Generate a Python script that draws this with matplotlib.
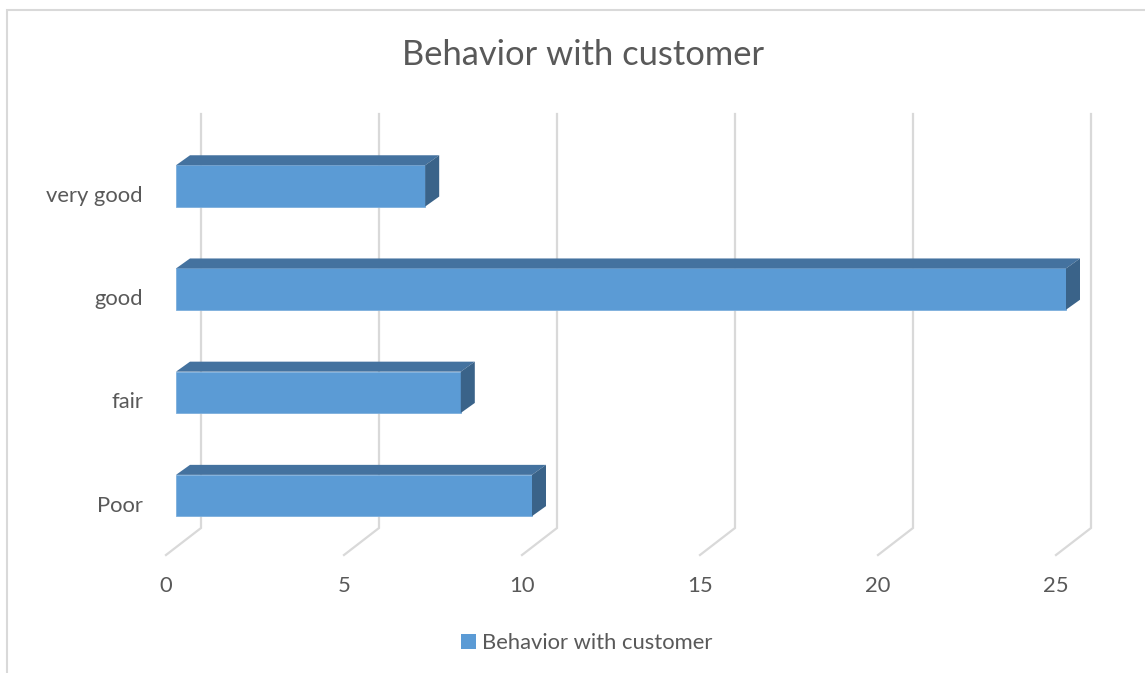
import matplotlib
matplotlib.use("Agg")
import matplotlib.pyplot as plt
from matplotlib.patches import Polygon, Rectangle, Patch

# ---- data ----
categories = ["Poor", "fair", "good", "very good"]
values = [10, 8, 25, 7]
series_name = "Behavior with customer"
title = "Behavior with customer"
xticks = [0, 5, 10, 15, 20, 25]

# ---- style ----
FONT = "Lato"
plt.rcParams["font.family"] = [FONT, "DejaVu Sans"]
front_c = "#5B9BD5"
top_c = "#44729F"
side_c = "#3A6389"
grid_c = "#D9D9D9"
text_c = "#595959"
LBL = 15.8

W, H = 1145, 673
fig = plt.figure(figsize=(W / 100, H / 100), dpi=100)

# axes placed in pixel box
L, R, T, B = 100, 1120, 100, 600
ax = fig.add_axes([L / W, 1 - B / H, (R - L) / W, (B - T) / H])
x0_px = 176.0
sx = 35.6      # px per value unit
y0_px = 495.5  # centre of first category
sy = 103.2     # px per category
ax.set_xlim(-(x0_px - L) / sx, (R - x0_px) / sx)
ax.set_ylim(-(B - y0_px) / sy, (y0_px - T) / sy)
ax.axis("off")

def px_x(p):
    return p / sx

def px_y(p):
    return p / sy

bar_h = 0.4
dx, dy = px_x(14), px_y(10)

# gridlines (back wall + floor)
back_dx = px_x(25)
grid_top = px_y(y0_px - 114)
grid_bot = -px_y(528 - y0_px)
floor_dx = -px_x(10)
floor_y = -px_y(555 - y0_px)
for v in xticks:
    ax.plot([v + back_dx, v + back_dx, v + floor_dx],
            [grid_top, grid_bot, floor_y],
            color=grid_c, lw=1.6, zorder=1, solid_joinstyle="miter")
    ax.text(v + floor_dx, -px_y(586 - y0_px), str(v), ha="center", va="center",
            fontsize=LBL, color=text_c)

# bars
ys = list(range(len(categories)))
ax.barh(ys, values, height=bar_h, color=front_c, edgecolor="#7DAFDD",
        linewidth=0.6, zorder=3)
for y, v in zip(ys, values):
    t = y + bar_h / 2
    b = y - bar_h / 2
    ax.add_patch(Polygon([(0, t), (dx, t + dy), (v + dx, t + dy), (v, t)],
                         closed=True, facecolor=top_c, edgecolor="none", zorder=3))
    ax.add_patch(Polygon([(v, b), (v, t), (v + dx, t + dy), (v + dx, b + dy)],
                         closed=True, facecolor=side_c, edgecolor="none", zorder=3))
    ax.text(-px_x(176 - 143), y - px_y(10), categories[y], ha="right", va="center",
            fontsize=LBL, color=text_c)

# title
fig.text(583 / W, 1 - 55 / H, title, ha="center", va="center",
         fontsize=24.8, color=text_c)

# legend
fig.legend(handles=[Patch(facecolor=front_c, edgecolor="none", label=series_name)],
           loc="center", bbox_to_anchor=(587 / W, 1 - 643 / H), frameon=False,
           fontsize=LBL, handlelength=0.65, handleheight=0.65, handletextpad=0.3,
           labelcolor=text_c)

# chart border
fig.add_artist(Rectangle((7 / W, -0.5), 2.0, 1 - 10 / H + 0.5,
                         transform=fig.transFigure, fill=False,
                         edgecolor=grid_c, lw=1.5))

fig.savefig("out.png", dpi=100)
